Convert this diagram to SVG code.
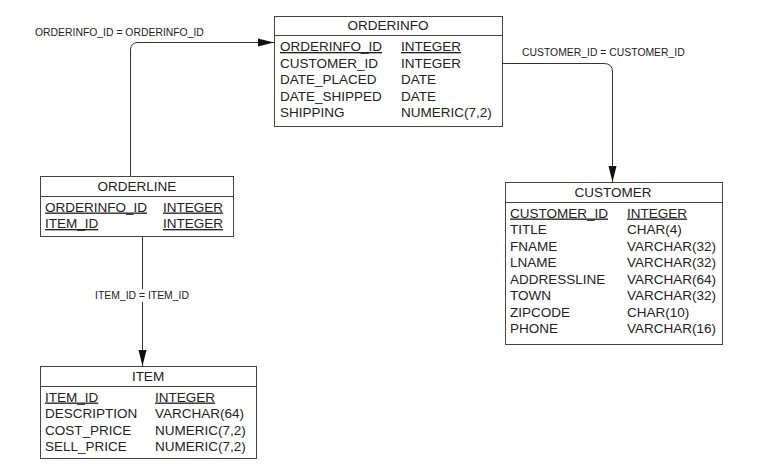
<svg xmlns="http://www.w3.org/2000/svg" width="757" height="476" viewBox="0 0 757 476">
<defs>
<marker id="arr" markerUnits="userSpaceOnUse" markerWidth="17" markerHeight="10" refX="16" refY="5" orient="auto">
<path d="M0,1 L16,5 L0,9 Z" fill="#111"/>
</marker>
<style>
.box{fill:#fff;stroke:#444;stroke-width:1}
.t{font-family:"Liberation Sans",Arial,sans-serif;font-size:13.5px;fill:#222}
.h{text-anchor:middle}
.pk{text-decoration:underline}
.lbl{font-family:"Liberation Sans",Arial,sans-serif;font-size:10.4px;fill:#222}
.con{fill:none;stroke:#333;stroke-width:1}
</style>
</defs>
<rect width="757" height="476" fill="#fff"/>
<g id="connectors">
<path class="con" d="M130.5,176 V50 Q130.5,42.5 138,42.5 H274" marker-end="url(#arr)"/>
<text class="lbl" x="35" y="36">ORDERINFO_ID = ORDERINFO_ID</text>
<path class="con" d="M502,63.5 H604 Q612.5,63.5 612.5,72 V182" marker-end="url(#arr)"/>
<text class="lbl" x="522" y="56">CUSTOMER_ID = CUSTOMER_ID</text>
<path class="con" d="M142.5,236 V366" marker-end="url(#arr)"/>
<rect x="93" y="289" width="98" height="13" fill="#fff"/>
<text class="lbl" x="142" y="299" text-anchor="middle">ITEM_ID = ITEM_ID</text>
</g>
<g id="orderinfo">
<rect class="box" x="274.5" y="16.5" width="228" height="110"/>
<line x1="274.5" y1="35.5" x2="502.5" y2="35.5" stroke="#444"/>
<text class="t h" x="388" y="30">ORDERINFO</text>
<text class="t pk" x="280" y="51">ORDERINFO_ID</text><text class="t pk" x="401" y="51">INTEGER</text>
<text class="t" x="280" y="67.5">CUSTOMER_ID</text><text class="t" x="401" y="67.5">INTEGER</text>
<text class="t" x="280" y="84">DATE_PLACED</text><text class="t" x="401" y="84">DATE</text>
<text class="t" x="280" y="100.5">DATE_SHIPPED</text><text class="t" x="401" y="100.5">DATE</text>
<text class="t" x="280" y="117">SHIPPING</text><text class="t" x="401" y="117">NUMERIC(7,2)</text>
</g>
<g id="orderline">
<rect class="box" x="40.5" y="176.5" width="193" height="60"/>
<line x1="40.5" y1="196.5" x2="233.5" y2="196.5" stroke="#444"/>
<text class="t h" x="137" y="191">ORDERLINE</text>
<text class="t pk" x="45" y="211.5">ORDERINFO_ID</text><text class="t pk" x="163" y="211.5">INTEGER</text>
<text class="t pk" x="45" y="228">ITEM_ID</text><text class="t pk" x="163" y="228">INTEGER</text>
</g>
<g id="item">
<rect class="box" x="40.5" y="366.5" width="216" height="92"/>
<line x1="40.5" y1="386.5" x2="256.5" y2="386.5" stroke="#444"/>
<text class="t h" x="148" y="381">ITEM</text>
<text class="t pk" x="45" y="401.5">ITEM_ID</text><text class="t pk" x="155" y="401.5">INTEGER</text>
<text class="t" x="45" y="418">DESCRIPTION</text><text class="t" x="155" y="418">VARCHAR(64)</text>
<text class="t" x="45" y="434.5">COST_PRICE</text><text class="t" x="155" y="434.5">NUMERIC(7,2)</text>
<text class="t" x="45" y="451">SELL_PRICE</text><text class="t" x="155" y="451">NUMERIC(7,2)</text>
</g>
<g id="customer">
<rect class="box" x="505.5" y="182.5" width="217" height="162"/>
<line x1="505.5" y1="202.5" x2="722.5" y2="202.5" stroke="#444"/>
<text class="t h" x="613" y="197">CUSTOMER</text>
<text class="t pk" x="510" y="217.5">CUSTOMER_ID</text><text class="t pk" x="627" y="217.5">INTEGER</text>
<text class="t" x="510" y="234">TITLE</text><text class="t" x="627" y="234">CHAR(4)</text>
<text class="t" x="510" y="250.5">FNAME</text><text class="t" x="627" y="250.5">VARCHAR(32)</text>
<text class="t" x="510" y="267">LNAME</text><text class="t" x="627" y="267">VARCHAR(32)</text>
<text class="t" x="510" y="283.5">ADDRESSLINE</text><text class="t" x="627" y="283.5">VARCHAR(64)</text>
<text class="t" x="510" y="300">TOWN</text><text class="t" x="627" y="300">VARCHAR(32)</text>
<text class="t" x="510" y="316.5">ZIPCODE</text><text class="t" x="627" y="316.5">CHAR(10)</text>
<text class="t" x="510" y="333">PHONE</text><text class="t" x="627" y="333">VARCHAR(16)</text>
</g>
</svg>
